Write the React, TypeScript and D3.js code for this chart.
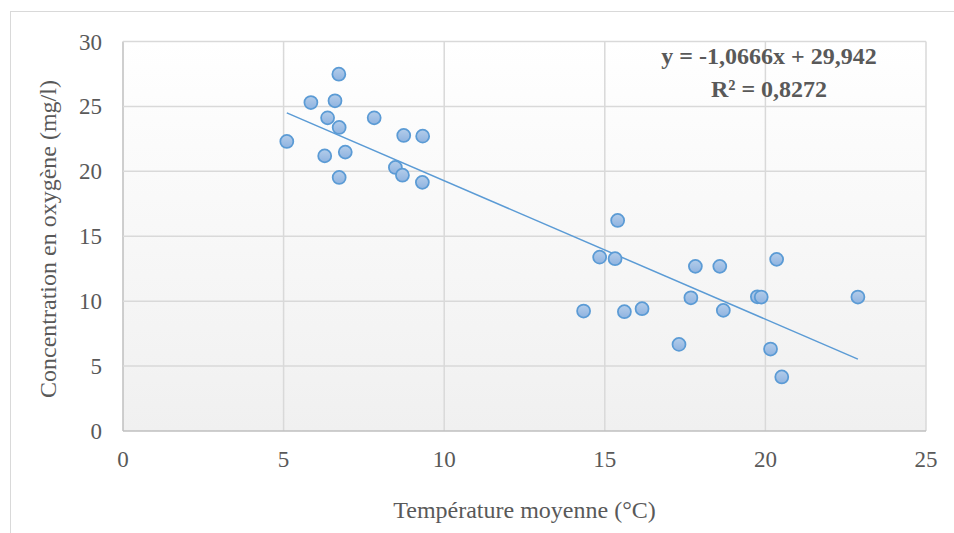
import React, { useEffect, useRef } from 'react';
import * as d3 from 'd3';

// température moyenne (°C) et concentration en oxygène (mg/l)
const temperatures = [
    6.72, 5.85, 6.6, 6.37, 7.82, 6.73, 5.1, 8.74, 9.33, 6.92, 6.28, 8.48, 8.7, 6.73, 9.32,
    15.4, 14.84, 15.32, 20.35, 17.82, 18.58, 17.68, 19.75, 19.87, 22.88, 14.34, 15.61, 16.16, 18.69, 17.31, 20.16, 20.51,
];
const oxygene = [
    27.48, 25.3, 25.43, 24.12, 24.12, 23.38, 22.3, 22.76, 22.71, 21.48, 21.19, 20.3, 19.7, 19.53, 19.15,
    16.22, 13.39, 13.27, 13.22, 12.68, 12.68, 10.26, 10.34, 10.32, 10.32, 9.24, 9.19, 9.42, 9.29, 6.67, 6.31, 4.16,
];
const xTicks = [0, 5, 10, 15, 20, 25];
const yTicks = [0, 5, 10, 15, 20, 25, 30];
const slope = -1.0666;
const intercept = 29.942;
const equationLines = ['y = -1,0666x + 29,942', 'R² = 0,8272'];

const W = 954;
const H = 533;

const ScatterChart: React.FC = () => {
    const ref = useRef<HTMLDivElement>(null);

    useEffect(() => {
        if (!ref.current) return;
        const margin = { top: 41.5, right: 28, bottom: 102, left: 123 };
        const iw = W - margin.left - margin.right;
        const ih = H - margin.top - margin.bottom;

        const svg = d3.select(ref.current)
            .append('svg')
            .attr('width', W)
            .attr('height', H)
            .style('display', 'block')
            .style('font-family', '"Liberation Serif", "Times New Roman", serif');

        // cadre du graphique
        svg.append('rect')
            .attr('x', 10.5).attr('y', 11.5)
            .attr('width', W).attr('height', H)
            .attr('fill', '#fff')
            .attr('stroke', '#d9d9d9');

        const defs = svg.append('defs');
        const grad = defs.append('linearGradient')
            .attr('id', 'plotBg').attr('x1', 0).attr('y1', 0).attr('x2', 0).attr('y2', 1);
        grad.append('stop').attr('offset', '0%').attr('stop-color', '#ffffff');
        grad.append('stop').attr('offset', '100%').attr('stop-color', '#f0f0f0');

        const mgrad = defs.append('linearGradient')
            .attr('id', 'markerFill').attr('x1', 0).attr('y1', 0).attr('x2', 0).attr('y2', 1);
        mgrad.append('stop').attr('offset', '0%').attr('stop-color', '#b4cdea');
        mgrad.append('stop').attr('offset', '100%').attr('stop-color', '#8fb3e0');

        const g = svg.append('g').attr('transform', `translate(${margin.left},${margin.top})`);

        const x = d3.scaleLinear().domain([0, 25]).range([0, iw]);
        const y = d3.scaleLinear().domain([0, 30]).range([ih, 0]);

        g.append('rect').attr('width', iw).attr('height', ih).attr('fill', 'url(#plotBg)');

        // quadrillage
        g.selectAll('.vgrid').data(xTicks).enter().append('line')
            .attr('x1', (d) => x(d)).attr('x2', (d) => x(d))
            .attr('y1', 0).attr('y2', ih)
            .attr('stroke', (d) => d === 0 ? '#bfbfbf' : '#d9d9d9').attr('stroke-width', 1.5);
        g.selectAll('.hgrid').data(yTicks).enter().append('line')
            .attr('x1', 0).attr('x2', iw)
            .attr('y1', (d) => y(d)).attr('y2', (d) => y(d))
            .attr('stroke', (d) => d === 0 ? '#bfbfbf' : '#d9d9d9').attr('stroke-width', 1.5);

        // étiquettes
        g.selectAll('.xlab').data(xTicks).enter().append('text')
            .attr('x', (d) => x(d)).attr('y', ih + 36)
            .attr('text-anchor', 'middle')
            .attr('font-size', 23).attr('fill', '#595959')
            .text((d) => d);
        g.selectAll('.ylab').data(yTicks).enter().append('text')
            .attr('x', -21).attr('y', (d) => y(d)).attr('dy', '0.35em')
            .attr('text-anchor', 'end')
            .attr('font-size', 23).attr('fill', '#595959')
            .text((d) => d);

        // droite de tendance
        const [xmin, xmax] = d3.extent(temperatures) as [number, number];
        g.append('line')
            .attr('x1', x(xmin)).attr('y1', y(slope * xmin + intercept))
            .attr('x2', x(xmax)).attr('y2', y(slope * xmax + intercept))
            .attr('stroke', '#5b9bd5').attr('stroke-width', 1.5);

        // points
        g.selectAll('.pt').data(temperatures).enter().append('circle')
            .attr('cx', (d) => x(d))
            .attr('cy', (d, i) => y(oxygene[i]))
            .attr('r', 6.5)
            .attr('fill', 'url(#markerFill)')
            .attr('stroke', '#5b9bd5').attr('stroke-width', 1.75);

        // équation
        g.selectAll('.eq').data(equationLines).enter().append('text')
            .attr('x', 769 - margin.left)
            .attr('y', (d, i) => 64 - margin.top + i * 33)
            .attr('text-anchor', 'middle')
            .attr('font-size', 24).attr('font-weight', 'bold').attr('fill', '#595959')
            .text((d) => d);

        // titres des axes
        svg.append('text')
            .attr('x', margin.left + iw / 2).attr('y', 518)
            .attr('text-anchor', 'middle')
            .attr('font-size', 24).attr('fill', '#595959')
            .text('Température moyenne (°C)');
        svg.append('text')
            .attr('transform', `translate(56,239) rotate(-90)`)
            .attr('text-anchor', 'middle')
            .attr('font-size', 24).attr('fill', '#595959')
            .text('Concentration en oxygène (mg/l)');

        return () => {
            svg.remove();
        };
    }, []);

    return (
        <div style={{ position: 'absolute', left: 0, top: 0, width: W, height: H, overflow: 'hidden' }}>
            <div ref={ref}></div>
        </div>
    );
};

export default ScatterChart;
